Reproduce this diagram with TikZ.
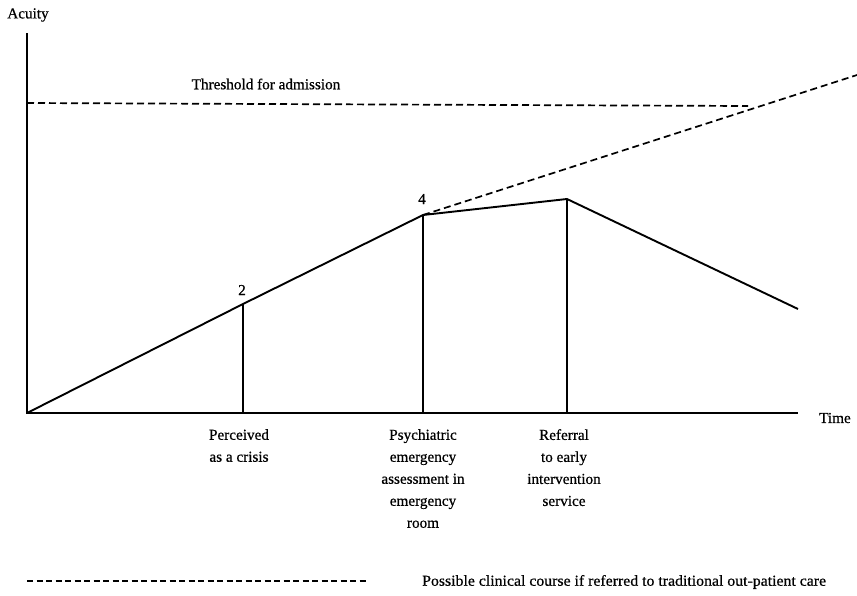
\documentclass[tikz,border=0pt]{standalone}
\usepackage{fontspec}
\setmainfont{Liberation Serif}
\newfontfamily\chartfont{Liberation Serif}[FakeBold=0.6]
\begin{document}
\begin{tikzpicture}[x=1pt,y=-1pt,
  axis/.style={line width=1.3pt},
  course/.style={line width=1.9pt},
  marker/.style={line width=1.6pt},
  dashline/.style={line width=1.7pt, dash pattern=on 7pt off 4pt},
  lbl/.style={font=\chartfont\fontsize{15.2}{22}\selectfont, inner sep=0pt},
  eventlbl/.style={lbl, align=center, anchor=north}]
\useasboundingbox (0,0) rectangle (857,595);

% axes
\coordinate (O) at (27,413);
\coordinate (ytop) at (27,33);
\coordinate (xend) at (798,413);
\draw[axis] (ytop) -- (O) -- (xend);
\node[lbl] (acuity) at (28,15) {Acuity};
\node[lbl, anchor=west] (time) at (819,418) {Time};

% admission threshold
\coordinate (thL) at (27,103);
\coordinate (thR) at (748,106);
\draw[dashline] (thL) -- (thR);
\node[lbl] (thlabel) at (266,84) {Threshold for admission};

% clinical course
\coordinate (p2) at (243,304);
\coordinate (p4) at (423,215);
\coordinate (pr) at (567,199);
\coordinate (pend) at (798,309);
\draw[course, line join=round] (O) -- (p2) -- (p4) -- (pr) -- (pend);
\draw[dashline] (p4) -- (857,75);

% event markers
\coordinate (b2) at (243,413);
\coordinate (b4) at (423,413);
\coordinate (br) at (567,413);
\draw[marker] (p2) -- (b2);
\draw[marker] (p4) -- (b4);
\draw[marker] (pr) -- (br);
\node[lbl] (n2) at (242,290) {2};
\node[lbl] (n4) at (422,199) {4};

\node[eventlbl] (e1) at (239,429) {Perceived\\as a crisis};
\node[eventlbl] (e2) at (423,429) {Psychiatric\\emergency\\assessment in\\emergency\\room};
\node[eventlbl] (e3) at (564,429) {Referral\\to early\\intervention\\service};

% legend
\coordinate (lgL) at (27,581);
\coordinate (lgR) at (368,581);
\draw[dashline, dash pattern=on 6pt off 3.5pt] (lgL) -- (lgR);
\node[lbl, anchor=west, xscale=1.04] (lgtext) at (422,582) {Possible clinical course if referred to traditional out-patient care};
\end{tikzpicture}
\end{document}
